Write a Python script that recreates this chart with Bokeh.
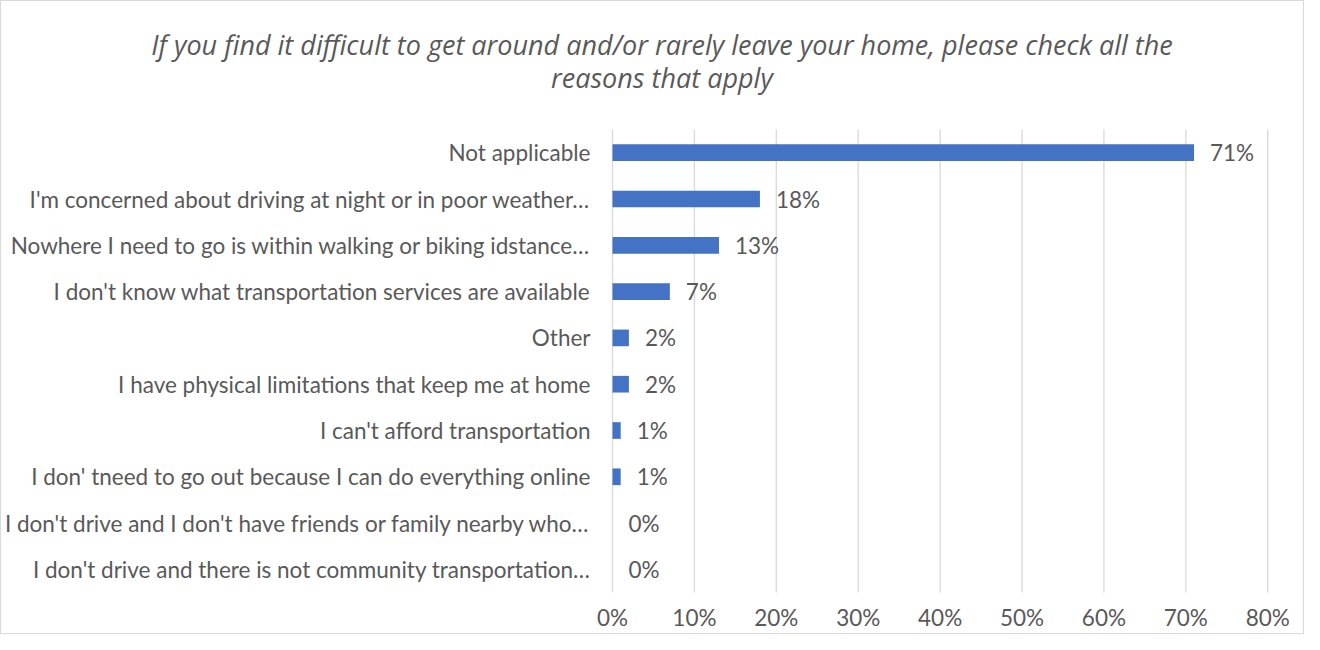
from bokeh.plotting import figure
from bokeh.models import ColumnDataSource, LabelSet, Label, Range1d
from bokeh.core.properties import value
from bokeh.embed import file_html
from bokeh.resources import INLINE

categories = [
    "Not applicable",
    "I'm concerned about driving at night or in poor weather…",
    "Nowhere I need to go is within walking or biking idstance…",
    "I don't know what transportation services are available",
    "Other",
    "I have physical limitations that keep me at home",
    "I can't afford transportation",
    "I don' tneed to go out because I can do everything online",
    "I don't drive and I don't have friends or family nearby who…",
    "I don't drive and there is not community transportation…",
]
values = [0.71, 0.18, 0.13, 0.07, 0.02, 0.02, 0.01, 0.01, 0.0, 0.0]
value_labels = ["71%", "18%", "13%", "7%", "2%", "2%", "1%", "1%", "0%", "0%"]
x_ticks = [0, 0.1, 0.2, 0.3, 0.4, 0.5, 0.6, 0.7, 0.8]
x_tick_labels = ["0%", "10%", "20%", "30%", "40%", "50%", "60%", "70%", "80%"]
title_lines = [
    "If you find it difficult to get around and/or rarely leave your home, please check all the",
    "reasons that apply",
]

FONT = "Lato"
TITLE_FONT = "Open Sans"
TXT = "#595959"
BLUE = "#4472C4"
GRID = "#d9d9d9"

n = len(categories)
rows = list(range(n))

src = ColumnDataSource(dict(row=rows, cat=categories, val=values, lab=value_labels,
                            zero=[0] * n))
tick_src = ColumnDataSource(dict(x=x_ticks, lab=x_tick_labels,
                                 y0=[-0.5] * len(x_ticks), y1=[n - 0.5] * len(x_ticks),
                                 yl=[n + 0.04] * len(x_ticks)))

p = figure(
    width=1304, height=634,
    x_range=Range1d(-0.7460, 0.8461),
    y_range=Range1d(10.4274, -3.2656),
    output_backend="svg", toolbar_location=None,
    min_border=0,
)
p.outline_line_color = None
p.axis.visible = False
p.grid.visible = False
p.styles = {"border": "1px solid #d9d9d9"}

# vertical gridlines at tick positions
p.segment(x0="x", x1="x", y0="y0", y1="y1", source=tick_src, line_color=GRID, line_width=1.3)

p.hbar(y="row", right="val", left=0, height=0.36, source=src, color=BLUE, line_color=None)

p.add_layout(LabelSet(x="zero", y="row", text="cat", source=src, x_offset=-22,
                      text_align="right", text_baseline="middle",
                      text_font=value(FONT), text_font_size="22.5px", text_color=TXT))

p.add_layout(LabelSet(x="val", y="row", text="lab", source=src, x_offset=16,
                      text_align="left", text_baseline="middle",
                      text_font=value(FONT), text_font_size="22.5px", text_color=TXT))

p.add_layout(LabelSet(x="x", y="yl", text="lab", source=tick_src,
                      text_align="center", text_baseline="middle",
                      text_font=value(FONT), text_font_size="22.5px", text_color=TXT))

for line, yy in zip(title_lines, [-2.337, -1.624]):
    p.add_layout(Label(x=0.0604, y=yy, text=line,
                       text_align="center", text_baseline="middle",
                       text_font=TITLE_FONT, text_font_style="italic", text_font_size="27px",
                       text_color=TXT))

open("out.html", "w").write(file_html(p, INLINE))
